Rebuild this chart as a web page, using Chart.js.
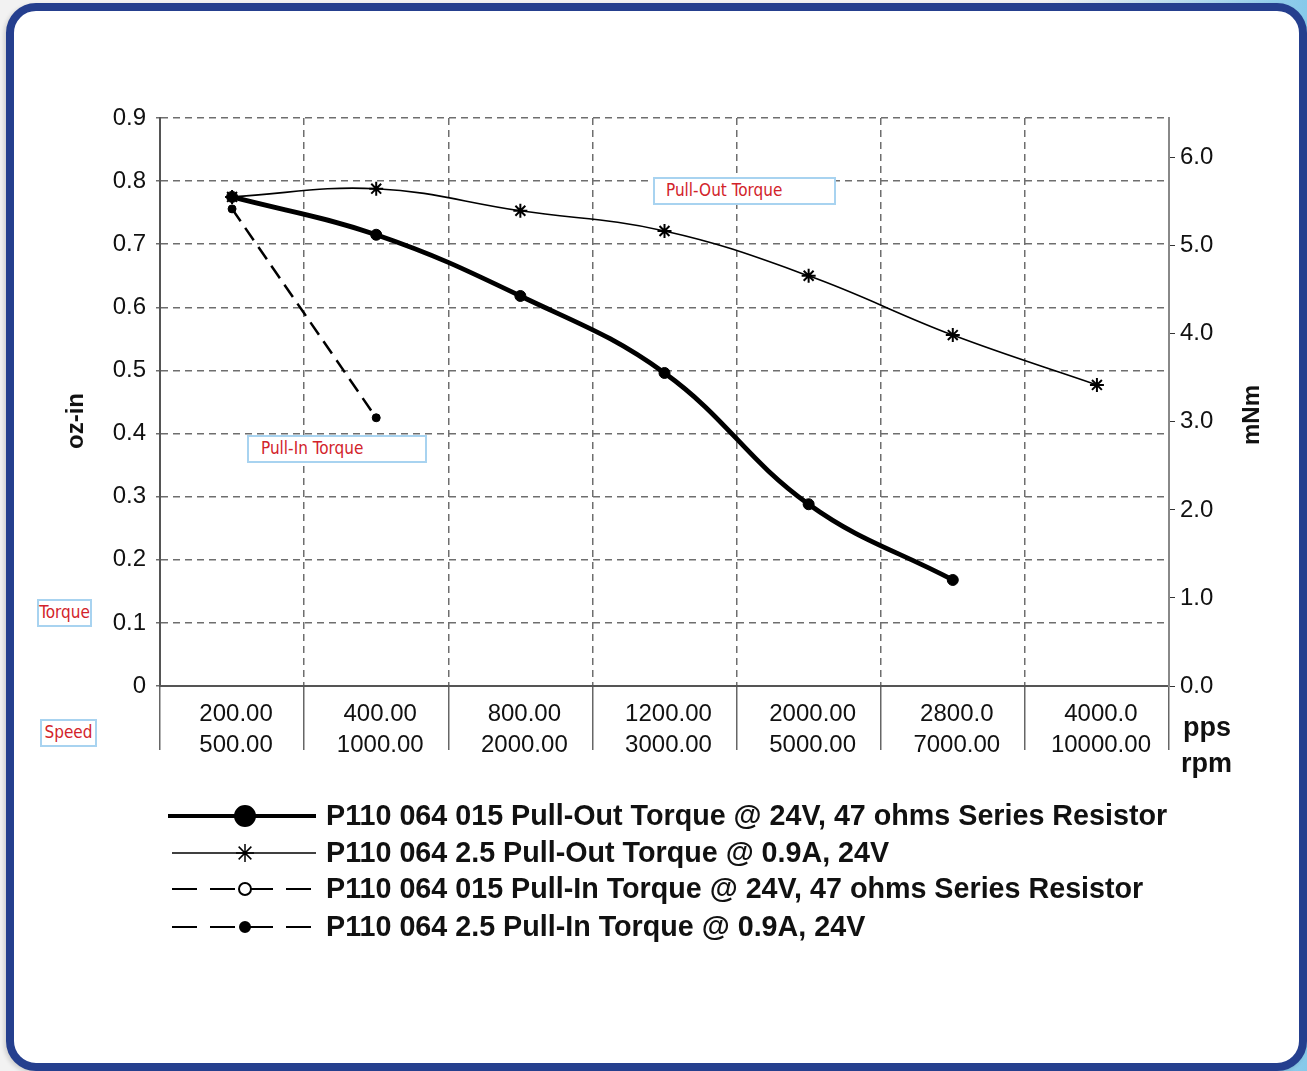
<!DOCTYPE html>
<html>
<head>
<meta charset="utf-8">
<script src="https://cdn.jsdelivr.net/npm/chart.js@4.4.1/dist/chart.umd.min.js"></script>
<style>
    html, body { margin: 0; padding: 0; }
    body {
        width: 1307px; height: 1071px; position: relative; overflow: hidden;
        background: linear-gradient(to right, #f2f2f2 0%, #f2f2f2 80%, #86c9ea 100%);
        font-family: "Liberation Sans", Arial, sans-serif;
    }
    #frame {
        position: absolute; left: 6px; top: 3px; width: 1301px; height: 1068px;
        box-sizing: border-box; border: 8px solid #253f8e; border-radius: 30px;
        background: #fff; box-shadow: -2px 2px 4px rgba(0,0,0,0.15);
    }
    #chart { position: absolute; left: 0; top: 0; }
    .note {
        position: absolute; box-sizing: border-box; height: 28px;
        border: 2px solid #a8d3f0; background: #fff; color: #d2232a;
        font-family: "Liberation Sans Narrow", "Arial Narrow", "DejaVu Sans Condensed", sans-serif;
        font-size: 17px; line-height: 23px; white-space: nowrap;
    }
    .unit { position: absolute; font-weight: bold; font-size: 27px; line-height: 27px; color: #111; }
    .axis-title {
        position: absolute; font-weight: bold; font-size: 24px; line-height: 24px; color: #111;
        transform: translate(-50%, -50%) rotate(-90deg); white-space: nowrap;
    }
</style>
</head>
<body>
<div id="frame"></div>
<canvas id="chart" width="1307" height="1071"></canvas>

<div class="axis-title" style="left:75px; top:421px;">oz-in</div>
<div class="axis-title" style="left:1251px; top:415px;">mNm</div>
<div class="note" style="left:653px; top:177px; width:183px; padding-left:11px;">Pull-Out Torque</div>
<div class="note" style="left:247px; top:435px; width:180px; padding-left:12px;">Pull-In Torque</div>
<div class="note" style="left:37px; top:599px; width:55px; text-align:center;">Torque</div>
<div class="note" style="left:40px; top:719px; width:57px; text-align:center;">Speed</div>
<div class="unit" style="left:1183px; top:714px;">pps</div>
<div class="unit" style="left:1181px; top:750px;">rpm</div>

<script>
// Datos del gráfico
const ppsLabels = ['200.00', '400.00', '800.00', '1200.00', '2000.00', '2800.0', '4000.0'];
const rpmLabels = ['500.00', '1000.00', '2000.00', '3000.00', '5000.00', '7000.00', '10000.00'];

const ozTicks = [0, 0.1, 0.2, 0.3, 0.4, 0.5, 0.6, 0.7, 0.8, 0.9];
const ozTickLabels = ['0', '0.1', '0.2', '0.3', '0.4', '0.5', '0.6', '0.7', '0.8', '0.9'];
const mnmTicks = [0, 1, 2, 3, 4, 5, 6];
const mnmTickLabels = ['0.0', '1.0', '2.0', '3.0', '4.0', '5.0', '6.0'];

const pullOut015 = [0.775, 0.715, 0.618, 0.496, 0.288, 0.168, null];
const pullOut25 = [0.775, 0.788, 0.753, 0.721, 0.650, 0.556, 0.477];
const pullIn015 = [null, null, null, null, null, null, null];
const pullIn25 = [0.756, 0.425, null, null, null, null, null];

const seriesNames = [
    'P110 064 015 Pull-Out Torque @ 24V, 47 ohms Series Resistor',
    'P110 064 2.5 Pull-Out Torque @ 0.9A, 24V',
    'P110 064 015 Pull-In Torque @ 24V, 47 ohms Series Resistor',
    'P110 064 2.5 Pull-In Torque @ 0.9A, 24V'
];

const GRID_COLOR = '#6e6e6e';
const TEXT_COLOR = '#111';

// Leyenda con línea larga y marcador en el centro
const lineLegend = {
    id: 'lineLegend',
    afterDraw(chart) {
        const ctx = chart.ctx;
        const rows = [816, 853, 889, 927];
        const starts = [168, 172, 172, 172];
        const markerSize = [9, 9, 6, 5];
        const lineWidths = [4, 1.5, 2, 2];
        chart.data.datasets.forEach((ds, i) => {
            const y = rows[i];
            ctx.save();
            ctx.strokeStyle = '#000';
            ctx.lineWidth = lineWidths[i];
            ctx.setLineDash(ds.borderDash ? [25, 13] : []);
            ctx.beginPath();
            ctx.moveTo(starts[i], y);
            ctx.lineTo(316, y);
            ctx.stroke();
            ctx.setLineDash([]);
            ctx.fillStyle = ds.pointBackgroundColor;
            ctx.strokeStyle = '#000';
            Chart.helpers.drawPoint(ctx, {
                pointStyle: ds.pointStyle,
                radius: markerSize[i],
                borderWidth: ds.pointBorderWidth,
                rotation: 0
            }, 245, y);
            ctx.fillStyle = TEXT_COLOR;
            ctx.font = 'bold 28.7px "Liberation Sans", Arial, sans-serif';
            ctx.textBaseline = 'middle';
            ctx.textAlign = 'left';
            ctx.fillText(ds.label, 326, y + 1);
            ctx.restore();
        });
    }
};

const ctx = document.getElementById('chart').getContext('2d');

new Chart(ctx, {
    type: 'line',
    data: {
        labels: ppsLabels.map((p, i) => [p, rpmLabels[i]]),
        datasets: [
            {
                label: seriesNames[0],
                data: pullOut015,
                borderColor: '#000',
                borderWidth: 4.8,
                pointStyle: 'circle',
                pointRadius: 5.5,
                pointBackgroundColor: '#000',
                pointBorderWidth: 1,
                tension: 0.4
            },
            {
                label: seriesNames[1],
                data: pullOut25,
                borderColor: '#000',
                borderWidth: 1.6,
                pointStyle: 'star',
                pointRadius: 7,
                pointBackgroundColor: '#000',
                pointBorderColor: '#000',
                pointBorderWidth: 2,
                tension: 0.4
            },
            {
                label: seriesNames[2],
                data: pullIn015,
                borderColor: '#000',
                borderWidth: 2.5,
                borderDash: [15, 8],
                pointStyle: 'circle',
                pointRadius: 5,
                pointBackgroundColor: '#fff',
                pointBorderWidth: 3,
                tension: 0.4
            },
            {
                label: seriesNames[3],
                data: pullIn25,
                borderColor: '#000',
                borderWidth: 2.5,
                borderDash: [15, 8],
                pointStyle: 'circle',
                pointRadius: 4,
                pointBackgroundColor: '#000',
                pointBorderWidth: 1,
                tension: 0.4
            }
        ]
    },
    options: {
        responsive: false,
        animation: false,
        layout: { padding: { left: 50, right: 40, top: 118, bottom: 315 } },
        plugins: {
            legend: { display: false },
            tooltip: { enabled: false }
        },
        scales: {
            x: {
                type: 'category',
                offset: true,
                grid: {
                    offset: true,
                    color: c => (c.type !== 'tick' || c.index === 0) ? 'rgba(0,0,0,0)' : GRID_COLOR,
                    lineWidth: 1.5,
                    tickColor: '#666',
                    tickWidth: 1.5,
                    tickLength: 64
                },
                border: { color: '#555', width: 2, dash: [7, 5] },
                ticks: {
                    padding: -51,
                    labelOffset: 4,
                    color: TEXT_COLOR,
                    font: { size: 24, lineHeight: 1.3 },
                    maxRotation: 0,
                    autoSkip: false
                },
                afterFit: s => { s.height = 70; }
            },
            y: {
                position: 'left',
                min: 0,
                max: 0.9,
                grid: {
                    color: c => (c.tick && c.tick.value === 0) ? 'rgba(0,0,0,0)' : GRID_COLOR,
                    lineWidth: 1.5,
                    tickColor: GRID_COLOR,
                    tickLength: 4
                },
                border: { color: '#555', width: 2, dash: [7, 5] },
                afterBuildTicks: s => { s.ticks = ozTicks.map(v => ({ value: v })); },
                ticks: {
                    padding: 10,
                    color: TEXT_COLOR,
                    font: { size: 24 },
                    callback: (v, i) => ozTickLabels[i]
                },
                afterFit: s => { s.width = 110; }
            },
            y2: {
                position: 'right',
                min: 0,
                max: 6.45,
                grid: {
                    drawOnChartArea: false,
                    tickColor: '#333',
                    tickLength: 6
                },
                border: { color: '#888', width: 2 },
                afterBuildTicks: s => { s.ticks = mnmTicks.map(v => ({ value: v })); },
                ticks: {
                    padding: 5,
                    color: TEXT_COLOR,
                    font: { size: 24 },
                    callback: (v, i) => mnmTickLabels[i]
                },
                afterFit: s => { s.width = 98; }
            }
        }
    },
    plugins: [lineLegend]
});
</script>
</body>
</html>
